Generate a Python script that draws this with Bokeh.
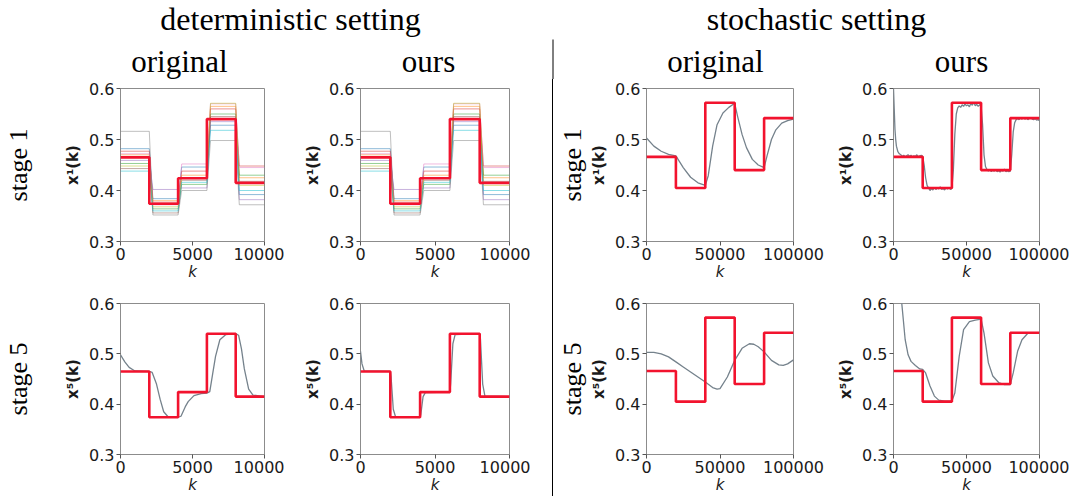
from bokeh.plotting import figure
from bokeh.layouts import row, column
from bokeh.models import Range1d, FixedTicker, LinearAxis, BasicTickFormatter, Spacer
from bokeh.core.properties import value
from bokeh.embed import file_html
from bokeh.resources import INLINE

# ---------------- data ----------------
DET_K_STEPS = [0, 2000, 4000, 6000, 8000, 10000]
DET_TARGET = [0.465, 0.374, 0.424, 0.540, 0.415]
STO_K_STEPS = [0, 20000, 40000, 60000, 80000, 100000]
STO_TARGET = [0.466, 0.405, 0.572, 0.440, 0.542]

# deterministic, stage 1: each agent's level in each of the 5 segments
AGENT_K = [0, 2000, 2250, 4000, 4250, 6000, 6250, 8000, 8250, 10000]
BLUE_LEVELS = [0.482, 0.384, 0.446, 0.528, 0.392]
ORANGE_LEVELS = [0.470, 0.380, 0.430, 0.565, 0.425]
GREEN_LEVELS = [0.453, 0.364, 0.412, 0.550, 0.430]
RED_LEVELS = [0.477, 0.377, 0.438, 0.560, 0.448]
PURPLE_LEVELS = [0.459, 0.402, 0.405, 0.535, 0.382]
BROWN_LEVELS = [0.443, 0.356, 0.420, 0.545, 0.418]
PINK_LEVELS = [0.472, 0.372, 0.452, 0.570, 0.445]
GRAY_LEVELS = [0.516, 0.352, 0.400, 0.498, 0.372]
OLIVE_LEVELS = [0.448, 0.368, 0.425, 0.571, 0.410]
CYAN_LEVELS = [0.438, 0.360, 0.416, 0.518, 0.400]

# deterministic, stage 5
DET_ORIG_S5_K = [0, 300, 600, 1000, 2000, 2200, 2500, 2750, 3000, 3300, 4000, 4200, 4500, 4700,
                 5100, 5600, 6000, 6200, 6400, 6600, 6900, 7300, 8000, 8200, 8400, 8600, 8900, 9200, 10000]
DET_ORIG_S5_X = [0.498, 0.484, 0.473, 0.466, 0.465, 0.463, 0.440, 0.410, 0.385, 0.375, 0.374, 0.376, 0.395, 0.405,
                 0.417, 0.421, 0.422, 0.425, 0.460, 0.495, 0.528, 0.538, 0.540, 0.537, 0.510, 0.470, 0.430, 0.418, 0.415]
DET_OURS_S5_K = [0, 100, 250, 2000, 2050, 2200, 2350, 4000, 4050, 4200, 4350, 6000, 6050, 6200, 6350,
                 8000, 8050, 8200, 8350, 10000]
DET_OURS_S5_X = [0.505, 0.480, 0.466, 0.465, 0.455, 0.390, 0.375, 0.374, 0.380, 0.415, 0.423, 0.424, 0.440, 0.520, 0.538,
                 0.540, 0.530, 0.440, 0.416, 0.415]

# stochastic, stage 1
STO_ORIG_S1_K = [0, 5000, 10000, 15000, 20000, 25000, 30000, 35000, 40000, 42000, 45000, 48000, 52000, 56000,
                 60000, 62000, 65000, 68000, 72000, 76000, 80000, 82000, 85000, 88000, 92000, 96000, 100000]
STO_ORIG_S1_X = [0.503, 0.487, 0.477, 0.471, 0.468, 0.445, 0.426, 0.415, 0.410, 0.429, 0.487, 0.529, 0.552, 0.563,
                 0.571, 0.545, 0.510, 0.484, 0.461, 0.450, 0.445, 0.468, 0.500, 0.519, 0.532, 0.537, 0.540]
STO_OURS_S1_K = [0, 500, 1000, 1500, 2000] + list(range(3000, 100001, 1000))
STO_OURS_S1_X = [0.600, 0.560, 0.520, 0.500, 0.487,
                 0.476, 0.472, 0.470, 0.467, 0.469, 0.466, 0.468, 0.470, 0.467, 0.469, 0.466, 0.468, 0.467, 0.470,
                 0.466, 0.468, 0.469, 0.467,
                 0.450, 0.425, 0.410, 0.405, 0.400, 0.404, 0.401, 0.406, 0.402, 0.405, 0.403, 0.407, 0.402, 0.404,
                 0.401, 0.405, 0.403, 0.406, 0.402, 0.404,
                 0.440, 0.510, 0.550, 0.562, 0.566, 0.563, 0.568, 0.565, 0.570, 0.566, 0.568, 0.564, 0.571, 0.567,
                 0.573, 0.566, 0.569, 0.565, 0.568, 0.566,
                 0.530, 0.470, 0.447, 0.441, 0.438, 0.441, 0.437, 0.440, 0.438, 0.441, 0.437, 0.439, 0.436, 0.440,
                 0.438, 0.442, 0.437, 0.439, 0.437, 0.438,
                 0.470, 0.515, 0.533, 0.539, 0.541, 0.539, 0.542, 0.540, 0.543, 0.540, 0.542, 0.539, 0.541, 0.543,
                 0.540, 0.539, 0.541, 0.538, 0.539, 0.537]

# stochastic, stage 5
STO_ORIG_S5_K = [0, 5000, 10000, 15000, 20000, 25000, 30000, 35000, 40000, 45000, 48000, 50000, 55000, 60000,
                 65000, 70000, 73000, 76000, 80000, 85000, 90000, 93000, 96000, 100000]
STO_ORIG_S5_X = [0.503, 0.503, 0.500, 0.494, 0.484, 0.474, 0.464, 0.454, 0.444, 0.433, 0.430, 0.431, 0.454, 0.487,
                 0.511, 0.520, 0.519, 0.514, 0.504, 0.487, 0.478, 0.477, 0.480, 0.488]
STO_OURS_S5_K = [0, 3000, 6000, 8000, 10000, 12000, 15000, 18000, 20000, 22000, 25000, 28000, 31000, 35000, 40000,
                 42000, 45000, 48000, 52000, 56000, 60000, 62000, 65000, 68000, 72000, 76000, 80000, 82000, 85000,
                 88000, 92000, 96000, 100000]
STO_OURS_S5_X = [0.780, 0.680, 0.590, 0.528, 0.498, 0.485, 0.477, 0.470, 0.469, 0.462, 0.436, 0.416, 0.408, 0.406, 0.406,
                 0.422, 0.495, 0.548, 0.564, 0.567, 0.569, 0.541, 0.482, 0.456, 0.443, 0.439, 0.439, 0.462, 0.505,
                 0.528, 0.541, 0.542, 0.542]

AGENTS = [
    (BLUE_LEVELS, "#1f77b4"), (ORANGE_LEVELS, "#ff7f0e"), (GREEN_LEVELS, "#2ca02c"),
    (RED_LEVELS, "#d62728"), (PURPLE_LEVELS, "#9467bd"), (BROWN_LEVELS, "#8c564b"),
    (PINK_LEVELS, "#e377c2"), (GRAY_LEVELS, "#7f7f7f"), (OLIVE_LEVELS, "#bcbd22"),
    (CYAN_LEVELS, "#17becf"),
]

TARGET_COLOR = "#f2132e"
CURVE_COLOR = "#75828c"
SERIF = "Liberation Serif"
SANS = "DejaVu Sans"


def panel(width, height, left, right, top, bottom, xmax, ylabel, stage=None, stage_standoff=0):
    p = figure(width=width, height=height, x_range=Range1d(0, xmax), y_range=Range1d(0.3, 0.6),
               output_backend="svg", toolbar_location=None,
               min_border_left=left, min_border_right=right, min_border_top=top, min_border_bottom=bottom,
               background_fill_color="white", border_fill_color="white")
    p.grid.grid_line_color = None
    p.outline_line_color = "#8c8c8c"
    p.outline_line_width = 1
    p.xaxis.ticker = FixedTicker(ticks=[0, xmax // 2, xmax])
    p.xaxis.formatter = BasicTickFormatter(use_scientific=False)
    p.yaxis.ticker = FixedTicker(ticks=[0.3, 0.4, 0.5, 0.6])
    for ax in (p.xaxis[0], p.yaxis[0]):
        ax.axis_line_color = None
        ax.major_tick_out = 4
        ax.major_tick_in = 0
        ax.major_tick_line_color = "#555555"
        ax.minor_tick_line_color = None
        ax.minor_tick_out = 0
        ax.major_label_standoff = 2
        ax.major_label_text_font = SANS
        ax.major_label_text_font_size = "16px"
        ax.major_label_text_color = "#1a1a1a"
        ax.axis_label_text_font = SANS
        ax.axis_label_text_color = "#1a1a1a"
    p.xaxis.axis_label = "k"
    p.xaxis.axis_label_text_font_style = "italic"
    p.xaxis.axis_label_text_font_size = "15px"
    p.xaxis.axis_label_standoff = 0
    p.yaxis.axis_label = ylabel
    p.yaxis.axis_label_text_font_style = "bold"
    p.yaxis.axis_label_text_font_size = "15px"
    p.yaxis.axis_label_standoff = 4
    if stage:
        sax = LinearAxis(ticker=FixedTicker(ticks=[]), axis_label=stage, axis_line_color=None,
                         major_tick_line_color=None, minor_tick_line_color=None,
                         major_tick_out=0, minor_tick_out=0, major_tick_in=0, minor_tick_in=0,
                         major_label_text_font_size="0px", major_label_standoff=0,
                         axis_label_standoff=stage_standoff, axis_label_text_font=SERIF,
                         axis_label_text_font_size="26px", axis_label_text_font_style="normal",
                         axis_label_text_color="black")
        p.add_layout(sax, "left")
    return p


def add_target(p, ks, levels):
    p.step(x=ks, y=levels + [levels[-1]], mode="after", line_color=TARGET_COLOR, line_width=2.6)


def add_agents(p):
    for levels, col in AGENTS:
        ys = []
        for v in levels:
            ys += [v, v]
        p.line(AGENT_K, ys, line_color=col, line_width=1, line_alpha=0.5)


# ---------------- header (coordinates = page pixels, origin at page (1, 1)) ----------------
hdr = figure(width=1070, height=79, x_range=Range1d(1, 1071), y_range=Range1d(80, 1),
             output_backend="svg", toolbar_location=None, min_border=0,
             x_axis_location=None, y_axis_location=None, outline_line_color=None)
hdr.grid.grid_line_color = None
hdr.text(x=[291, 817], y=[19, 19], text=["deterministic setting", "stochastic setting"],
         text_font=value(SERIF), text_font_size=value("32px"), text_align="center",
         text_baseline="middle", text_color="black")
hdr.text(x=[180, 429, 716, 962], y=[62, 62, 62, 62], text=["original", "ours", "original", "ours"],
         text_font=value(SERIF), text_font_size=value("31px"), text_align="center",
         text_baseline="middle", text_color="black")
hdr.segment(x0=[553.5], y0=[40], x1=[553.5], y1=[80], line_color="black", line_width=1)

H1, T1, B1 = 210, 9, 48
H2, T2, B2 = 207, 14, 42

# row 1
f1 = panel(284, H1, 116, 20, T1, B1, 10000, "x¹(k)", "stage 1", 29)
add_agents(f1)
add_target(f1, DET_K_STEPS, DET_TARGET)
f2 = panel(246, H1, 76, 21, T1, B1, 10000, "x¹(k)")
add_agents(f2)
add_target(f2, DET_K_STEPS, DET_TARGET)
f3 = panel(281, H1, 93, 41, T1, B1, 100000, "x¹(k)", "stage 1", 1)
f3.line(STO_ORIG_S1_K, STO_ORIG_S1_X, line_color=CURVE_COLOR, line_width=1.3)
add_target(f3, STO_K_STEPS, STO_TARGET)
f4 = panel(235, H1, 58, 30, T1, B1, 100000, "x¹(k)")
f4.line(STO_OURS_S1_K, STO_OURS_S1_X, line_color=CURVE_COLOR, line_width=1.3)
add_target(f4, STO_K_STEPS, STO_TARGET)

# row 2
f5 = panel(284, H2, 116, 20, T2, B2, 10000, "x⁵(k)", "stage 5", 29)
f5.line(DET_ORIG_S5_K, DET_ORIG_S5_X, line_color=CURVE_COLOR, line_width=1.3)
add_target(f5, DET_K_STEPS, DET_TARGET)
f6 = panel(246, H2, 76, 21, T2, B2, 10000, "x⁵(k)")
f6.line(DET_OURS_S5_K, DET_OURS_S5_X, line_color=CURVE_COLOR, line_width=1.3)
add_target(f6, DET_K_STEPS, DET_TARGET)
f7 = panel(281, H2, 93, 41, T2, B2, 100000, "x⁵(k)", "stage 5", 1)
f7.line(STO_ORIG_S5_K, STO_ORIG_S5_X, line_color=CURVE_COLOR, line_width=1.3)
add_target(f7, STO_K_STEPS, STO_TARGET)
f8 = panel(235, H2, 58, 30, T2, B2, 100000, "x⁵(k)")
f8.line(STO_OURS_S5_K, STO_OURS_S5_X, line_color=CURVE_COLOR, line_width=1.3)
add_target(f8, STO_K_STEPS, STO_TARGET)

gap1 = Spacer(width=22, height=H1)
gap2 = Spacer(width=22, height=H2)
sep1 = Spacer(width=1, height=H1, styles={"background-color": "black"})
sep2 = Spacer(width=1, height=H2, styles={"background-color": "black"})

layout = column(hdr, row(f1, f2, gap1, sep1, f3, f4), row(f5, f6, gap2, sep2, f7, f8))

open("out.html", "w").write(file_html(layout, INLINE))
